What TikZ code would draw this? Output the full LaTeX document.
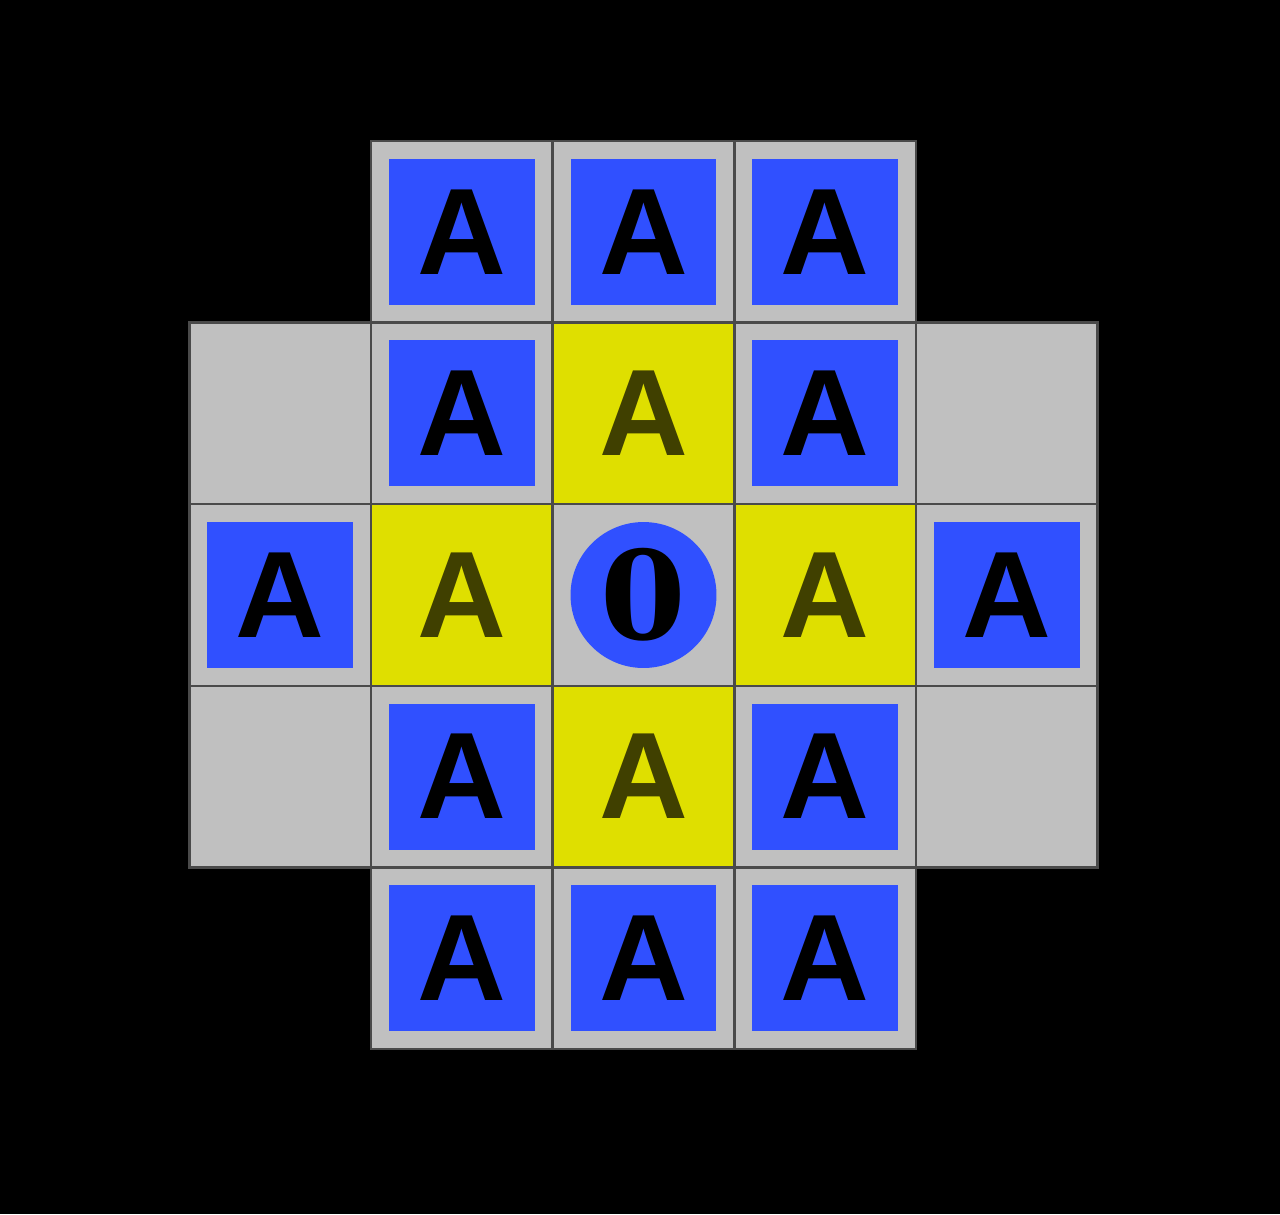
\documentclass[tikz,border=0pt]{standalone}
\usepackage{xcolor}
\usepackage{fontspec}
\newfontfamily\letterfont{Liberation Sans}
\newfontfamily\digitfont{DejaVu Serif}
\definecolor{cellgray}{HTML}{C0C0C0}
\definecolor{edgegray}{HTML}{4A4A4A}
\definecolor{tileblue}{HTML}{3050FF}
\definecolor{markyellow}{HTML}{DFDF00}
\definecolor{markolive}{HTML}{404000}

\begin{document}
\begin{tikzpicture}[
    x=0.02cm, y=-0.02cm,
    cell/.style={draw=edgegray, line width=1.4pt, fill=#1, minimum size=3.632cm,
                 inner sep=0pt, outer sep=0pt,
                 font=\letterfont\fontsize{70}{70}\selectfont\bfseries},
    cell/.default=cellgray,
    tile/.style={fill=tileblue, minimum size=2.92cm, inner sep=0pt,
                 font=\letterfont\fontsize{70}{70}\selectfont\bfseries},
    piece/.style={circle, fill=tileblue, minimum size=2.92cm, inner sep=0pt,
                  font=\digitfont\fontsize{70}{70}\selectfont\bfseries},
  ]
  % Background
  \fill[black] (0,0) rectangle (1280,1214);
  \useasboundingbox (0,0) rectangle (1280,1214);

  % Gray cells
  \foreach \r/\c in {0/1,0/2,0/3,1/0,1/1,1/3,1/4,2/0,2/2,2/4,3/0,3/1,3/3,3/4,4/1,4/2,4/3}
    \node[cell] (cell-\r-\c) at ({280.3+181.6*\c}, {231.8+181.6*\r}) {};

  % Yellow cells
  \foreach \r/\c in {1/2,2/1,2/3,3/2}
    \node[cell=markyellow, text=markolive] (cell-\r-\c)
      at ({280.3+181.6*\c}, {231.8+181.6*\r}) {A};

  % Blue tiles
  \foreach \r/\c in {0/1,0/2,0/3,1/1,1/3,2/0,2/4,3/1,3/3,4/1,4/2,4/3}
    \node[tile] (tile-\r-\c) at (cell-\r-\c) {A};

  % Centre piece
  \node[piece] (zero) at (cell-2-2) {0};
\end{tikzpicture}
\end{document}
